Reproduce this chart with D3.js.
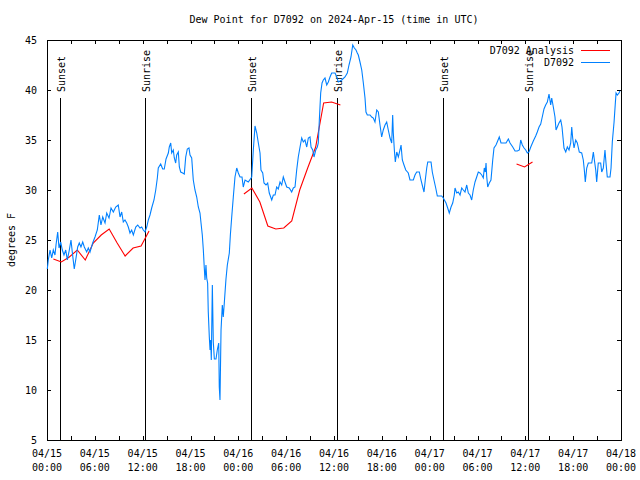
<!DOCTYPE html>
<html><head><meta charset="utf-8">
<script src="https://cdn.jsdelivr.net/npm/d3@7"></script>
<style>
body{margin:0;background:#fff}
text{font-family:"DejaVu Sans Mono",monospace;font-size:10px;fill:#000}
</style>
</head><body><svg id="c" width="640" height="480"></svg>
<script>
// ---------- data ----------
const titleText = "Dew Point for D7092 on 2024-Apr-15 (time in UTC)";
const yLabelText = "degrees F";
const startUTC = Date.UTC(2024, 3, 15, 0, 0);
const yTicks = [5, 10, 15, 20, 25, 30, 35, 40, 45];
const xLabelHours = [0, 6, 12, 18, 24, 30, 36, 42, 48, 54, 60, 66, 72];
const xMinorHours = [0,3,6,9,12,15,18,21,24,27,30,33,36,39,42,45,48,51,54,57,60,63,66,69,72];
const legendNames = ["D7092 Analysis", "D7092"];
const sunLabels = ["Sunset", "Sunrise", "Sunset", "Sunrise", "Sunset", "Sunrise"];
const sunHours = [1.6, 12.33, 25.55, 36.41, 49.64, 60.37];

// analysis (hours since start, deg F); null breaks the line
const analysisSeries = [
 [0.8,23.1],[1.8,22.8],[2.8,23.3],[3.8,24.0],[4.8,23.0],[5.8,24.7],[6.8,25.5],[7.8,26.1],
 [8.8,24.7],[9.8,23.4],[10.8,24.2],[11.8,24.4],[12.8,25.9],[18,null],
 [24.7,29.6],[25.7,30.2],[26.7,28.8],[27.7,26.4],[28.7,26.1],[29.7,26.2],[30.7,26.9],
 [31.7,30.0],[32.7,32.2],[33.7,34.3],[34.7,38.7],[35.7,38.8],[36.8,38.5],[45,null],
 [58.9,32.6],[59.9,32.3],[60.9,32.8]
];

// observations (hours since start, deg F)
const obsSeries = [
 [0.04,22.1],[0.16,23.0],[0.38,24.0],[0.59,23.2],[0.79,24.0],[1.00,23.5],[1.13,24.5],[1.34,25.8],
 [1.51,24.2],[1.72,24.8],[1.92,24.0],[2.13,23.5],[2.35,24.0],[2.55,23.0],[2.80,24.0],[3.01,25.0],
 [3.17,23.8],[3.42,22.1],[3.64,23.2],[3.85,24.3],[4.05,24.7],[4.26,24.3],[4.48,24.8],[4.68,24.3],
 [4.98,23.8],[5.18,24.2],[5.39,23.8],[5.73,24.7],[6.02,25.3],[6.31,26.0],[6.56,27.5],[6.77,26.5],
 [6.99,27.3],[7.28,26.7],[7.49,27.7],[7.78,27.2],[8.03,28.2],[8.32,27.8],[8.62,28.3],[8.94,28.5],
 [9.16,27.3],[9.37,27.8],[9.57,26.8],[9.78,27.0],[10.00,26.7],[10.20,26.3],[10.41,25.7],[10.62,26.0],
 [10.83,25.5],[11.13,26.3],[11.38,26.5],[11.67,26.2],[11.88,26.3],[12.08,26.0],[12.29,25.8],[12.51,26.3],
 [12.71,27.0],[12.92,27.5],[13.13,28.2],[13.42,29.0],[13.64,30.0],[13.84,31.2],[13.96,32.2],[14.26,32.6],
 [14.51,32.1],[14.71,32.1],[14.93,33.1],[15.22,33.7],[15.34,34.3],[15.52,34.7],[15.64,33.7],[15.84,34.0],
 [15.97,33.2],[16.14,32.7],[16.27,33.5],[16.47,33.8],[16.60,32.3],[16.77,31.8],[17.02,31.7],[17.22,31.6],
 [17.40,33.3],[17.60,34.1],[17.81,34.2],[17.94,33.5],[18.15,33.2],[18.35,31.0],[18.56,30.0],[18.78,29.3],
 [18.98,28.3],[19.19,27.7],[19.32,26.7],[19.48,25.5],[19.61,24.0],[19.73,22.2],[19.82,21.0],[19.94,22.5],
 [20.03,21.2],[20.15,20.7],[20.23,17.8],[20.36,15.3],[20.45,14.0],[20.53,15.0],[20.61,13.0],[20.74,20.5],
 [20.86,14.8],[20.99,13.1],[21.20,13.1],[21.36,14.0],[21.54,14.7],[21.61,10.3],[21.70,9.0],[21.83,16.0],
 [21.99,18.5],[22.11,17.3],[22.24,18.7],[22.45,21.1],[22.62,22.5],[22.87,23.7],[23.00,25.5],[23.17,27.3],
 [23.37,29.3],[23.58,31.3],[23.80,32.2],[24.00,31.7],[24.21,31.3],[24.46,31.3],[24.62,30.3],[24.84,31.0],
 [25.25,30.8],[25.68,31.3],[25.88,34.0],[26.09,36.4],[26.31,35.7],[26.51,34.7],[26.72,33.7],[26.84,32.0],
 [27.06,31.7],[27.22,30.7],[27.47,30.5],[27.68,30.7],[27.88,29.7],[28.19,29.0],[28.39,29.5],[28.60,29.5],
 [28.81,30.3],[29.01,30.1],[29.23,30.8],[29.44,30.5],[29.64,31.3],[29.85,30.8],[30.07,30.3],[30.39,30.2],
 [30.69,29.8],[30.90,30.2],[31.11,30.3],[31.32,32.0],[31.52,33.3],[31.74,34.3],[31.95,35.2],[32.15,34.8],
 [32.36,35.0],[32.58,34.3],[32.78,35.2],[32.99,35.3],[33.12,34.3],[33.33,34.0],[33.49,33.3],[33.71,34.0],
 [33.91,34.3],[34.03,34.7],[34.16,37.0],[34.33,39.7],[34.50,40.7],[34.66,41.0],[34.87,41.2],[35.09,40.5],
 [35.29,40.8],[35.50,41.3],[35.71,41.7],[36.13,41.7],[36.34,41.3],[36.54,40.8],[36.97,41.0],[37.38,41.3],
 [37.67,41.7],[37.88,42.5],[38.13,43.3],[38.35,44.5],[38.55,44.2],[38.76,44.0],[38.92,43.7],[39.05,43.5],
 [39.26,42.8],[39.48,42.0],[39.68,40.7],[39.89,39.2],[40.01,37.8],[40.18,37.5],[40.52,37.5],[40.73,37.3],
 [40.93,37.2],[41.14,36.8],[41.36,38.0],[41.56,37.8],[41.77,36.5],[41.98,35.3],[42.18,36.0],[42.40,36.5],
 [42.61,36.8],[42.81,36.0],[43.03,35.2],[43.24,34.7],[43.36,37.5],[43.44,35.7],[43.57,34.0],[43.69,32.8],
 [43.87,33.8],[44.07,33.3],[44.28,34.0],[44.41,34.5],[44.57,33.0],[44.78,32.5],[45.00,32.0],[45.32,31.7],
 [45.53,31.0],[45.95,31.0],[46.16,31.5],[46.37,31.8],[46.70,31.8],[46.91,31.0],[47.13,30.3],[47.29,29.8],
 [47.45,31.0],[47.63,32.2],[47.76,32.8],[48.17,32.8],[48.33,31.8],[48.54,31.0],[48.76,30.2],[48.96,29.4],
 [49.51,29.4],[49.71,29.2],[50.05,28.7],[50.26,28.2],[50.46,27.7],[50.68,28.3],[50.89,28.7],[51.09,29.5],
 [51.18,30.2],[51.39,29.7],[51.59,29.8],[51.81,29.5],[52.02,30.2],[52.22,30.0],[52.43,29.8],[52.65,30.5],
 [52.85,29.7],[53.06,29.5],[53.27,29.0],[53.47,30.0],[53.69,30.8],[53.90,31.3],[54.10,31.8],[54.31,31.7],
 [54.53,31.5],[54.73,31.2],[54.85,32.2],[54.98,31.8],[55.07,32.7],[55.16,31.3],[55.28,30.3],[55.48,30.7],
 [55.69,31.0],[55.91,33.0],[56.07,34.2],[56.32,34.5],[56.53,34.9],[56.73,35.3],[56.95,34.7],[57.58,34.7],
 [57.87,35.1],[58.08,34.7],[58.42,34.3],[58.71,33.9],[59.00,33.9],[59.25,34.0],[59.42,35.0],[59.62,34.5],
 [59.84,34.2],[60.05,34.0],[60.25,33.7],[60.46,33.8],[60.68,34.3],[61.00,34.9],[61.30,35.4],[61.50,35.8],
 [61.72,36.3],[61.93,36.6],[62.15,37.4],[62.34,38.1],[62.55,38.5],[62.76,38.8],[62.97,39.6],[63.18,38.5],
 [63.31,39.2],[63.51,38.3],[63.72,37.3],[63.85,36.0],[64.01,36.3],[64.22,36.7],[64.44,37.0],[64.60,36.3],
 [64.73,35.2],[64.85,34.2],[65.07,33.8],[65.27,34.3],[65.48,34.0],[65.69,34.7],[65.82,36.3],[65.94,35.2],
 [66.11,34.2],[66.32,35.0],[66.52,34.7],[66.77,33.8],[67.07,33.7],[67.27,33.0],[67.40,32.0],[67.52,30.8],
 [67.70,32.2],[67.90,32.7],[68.33,32.7],[68.53,33.8],[68.66,33.0],[68.83,32.0],[68.95,30.8],[69.15,32.7],
 [69.45,32.7],[69.58,31.8],[69.78,32.2],[69.99,34.0],[70.12,32.7],[70.28,31.3],[70.62,31.3],[70.75,32.2],
 [70.91,34.8],[71.13,36.8],[71.29,38.7],[71.38,39.7],[71.54,39.5],[71.75,39.7],[71.87,39.9]
];

// ---------- chart ----------
const W = 640, H = 480;
const M = {left: 47, top: 40, right: 19, bottom: 40};
const pw = W - M.left - M.right, ph = H - M.top - M.bottom;
const toDate = h => new Date(startUTC + h * 3600e3);

const svg = d3.select("#c");
const x = d3.scaleUtc().domain([toDate(0), toDate(72)]).range([M.left, M.left + pw]);
const y = d3.scaleLinear().domain([5, 45]).range([M.top + ph, M.top]);

// title
svg.append("text").attr("x", M.left + pw / 2).attr("y", 23)
  .attr("text-anchor", "middle").text(titleText);

// y label
svg.append("text").attr("transform", `translate(11,${M.top + ph / 2}) rotate(-90)`)
  .attr("text-anchor", "middle").attr("dy", "0.35em").text(yLabelText);

// axes (inward ticks)
const g = svg.append("g").attr("shape-rendering", "crispEdges");
g.append("g").attr("transform", `translate(${M.left},0)`)
  .call(d3.axisLeft(y).tickValues(yTicks).tickSize(-4).tickPadding(10))
  .call(a => a.select(".domain").remove());
g.append("g").attr("transform", `translate(${M.left + pw},0)`)
  .call(d3.axisRight(y).tickValues(yTicks).tickSize(-4).tickFormat(""))
  .call(a => a.select(".domain").remove());
g.append("g").attr("transform", `translate(0,${M.top + ph})`)
  .call(d3.axisBottom(x).tickValues(xMinorHours.map(toDate)).tickSize(-4).tickFormat(""))
  .call(a => a.select(".domain").remove());
g.append("g").attr("transform", `translate(0,${M.top})`)
  .call(d3.axisTop(x).tickValues(xMinorHours.map(toDate)).tickSize(-4).tickFormat(""))
  .call(a => a.select(".domain").remove());
svg.selectAll(".tick text").attr("font-family", null).attr("font-size", null);
svg.selectAll(".tick line").attr("stroke", "#000");

// x tick labels (two lines)
const fmtD = d3.utcFormat("%m/%d"), fmtT = d3.utcFormat("%H:%M");
const xl = svg.append("g").selectAll("text").data(xLabelHours).join("text")
  .attr("text-anchor", "middle").attr("x", h => x(toDate(h)));
xl.append("tspan").attr("x", h => x(toDate(h))).attr("y", 457).text(h => fmtD(toDate(h)));
xl.append("tspan").attr("x", h => x(toDate(h))).attr("y", 471).text(h => fmtT(toDate(h)));

// border
g.append("rect").attr("x", M.left + 0.5).attr("y", M.top + 0.5)
  .attr("width", pw).attr("height", ph).attr("fill", "none").attr("stroke", "#000");

// sunrise / sunset lines
const sun = svg.append("g");
sunHours.forEach((h, i) => {
  const sx = Math.round(x(toDate(h))) + 0.5;
  sun.append("line").attr("x1", sx).attr("x2", sx).attr("y1", 98).attr("y2", M.top + ph)
    .attr("stroke", "#000").attr("shape-rendering", "crispEdges");
  sun.append("text").attr("transform", `translate(${sx + 0.5},92) rotate(-90)`)
    .attr("dy", "0.35em").text(sunLabels[i]);
});

// lines
const line = d3.line().defined(d => d[1] != null)
  .x(d => x(toDate(d[0]))).y(d => y(d[1]));
svg.append("path").datum(analysisSeries).attr("d", line)
  .attr("fill", "none").attr("stroke", "#ff0000").attr("stroke-width", 1.1);
svg.append("path").datum(obsSeries).attr("d", line)
  .attr("fill", "none").attr("stroke", "#0080ff").attr("stroke-width", 1.1);

// legend
const colors = ["#ff0000", "#0080ff"];
legendNames.forEach((n, i) => {
  const ly = 50 + i * 12.5;
  svg.append("text").attr("x", 574).attr("y", ly).attr("dy", "0.35em")
    .attr("text-anchor", "end").text(n);
  svg.append("line").attr("x1", 581).attr("x2", 610).attr("y1", ly).attr("y2", ly)
    .attr("stroke", colors[i]).attr("shape-rendering", "crispEdges");
});
</script>
</body></html>
